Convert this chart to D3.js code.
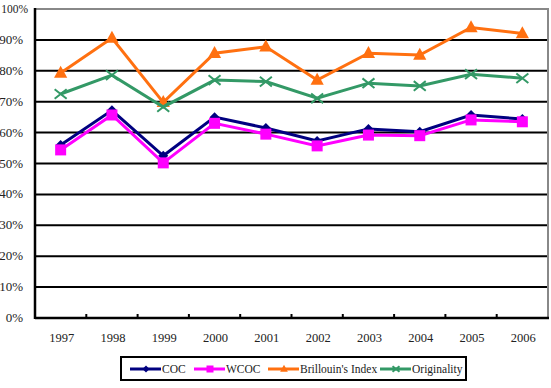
<!DOCTYPE html>
<html><head><meta charset="utf-8">
<script src="https://cdn.jsdelivr.net/npm/d3@7"></script>
<style>body{margin:0;background:#fff}svg{display:block}</style>
</head><body><svg id="c" width="551" height="388"></svg>
<script>
const years = ["1997","1998","1999","2000","2001","2002","2003","2004","2005","2006"];
const coc = [56, 67.2, 52.5, 65, 61.5, 57.3, 61.2, 60.3, 65.7, 64.4];
const wcoc = [54.4, 65.7, 50.2, 63, 59.5, 55.7, 59.2, 59, 64.1, 63.5];
const brillouin = [79.3, 90.6, 69.8, 85.7, 87.8, 77, 85.7, 85.1, 94, 92.1];
const originality = [72.5, 78.6, 68.3, 77, 76.5, 71.1, 76, 75.1, 78.9, 77.6];
const yTicks = [0,10,20,30,40,50,60,70,80,90,100];
const seriesNames = ["COC","WCOC","Brillouin's Index","Originality"];
const seriesColors = ["#000080","#FF00FF","#FF7010","#339966"];
const seriesShapes = ["diamond","square","triangle","x"];
const seriesData = [coc, wcoc, brillouin, originality];

const FONT = "Liberation Serif";
const svg = d3.select("#c");
const L = 35, R = 548, T = 9, B = 318;
const x = d3.scaleBand().domain(years).range([L, R]);
const y = d3.scaleLinear().domain([0,100]).range([B, T]);

svg.append("g").selectAll("line").data(yTicks.filter(d=>d>0 && d<100)).join("line")
  .attr("x1", L).attr("x2", R).attr("y1", d=>y(d)).attr("y2", d=>y(d))
  .attr("stroke","#000").attr("stroke-width",2);
svg.append("path").attr("d",`M${L},${y(100)}H${R}V${B}`).attr("fill","none")
  .attr("stroke","#888").attr("stroke-width",2);

svg.append("g").selectAll("text").data(yTicks).join("text")
  .attr("x", d=> d===100 ? 28 : 23).attr("y", d=>y(d)+4).attr("text-anchor","end")
  .attr("font-family",FONT).attr("font-size",d=> d===100 ? 11.5 : 13).attr("fill","#222")
  .text(d=>d+"%");

svg.append("line").attr("x1",L).attr("x2",R+1).attr("y1",B).attr("y2",B).attr("stroke","#000").attr("stroke-width",2.5);
svg.append("line").attr("x1",L).attr("x2",L).attr("y1",T-1).attr("y2",B+1).attr("stroke","#000").attr("stroke-width",2.5);
svg.append("g").selectAll("line").data(years.slice(1)).join("line")
  .attr("x1",d=>x(d)).attr("x2",d=>x(d)).attr("y1",B).attr("y2",B-4)
  .attr("stroke","#000").attr("stroke-width",2);
svg.append("g").selectAll("text").data(years).join("text")
  .attr("x", d=>x(d)+x.bandwidth()/2+1).attr("y", 342).attr("text-anchor","middle")
  .attr("font-family",FONT).attr("font-size",12.5).attr("fill","#222").text(d=>d);

function marker(g, shape, color, cx, cy, s) {
  if (shape==="diamond") g.append("path").attr("d",`M${cx},${cy-s}L${cx+s},${cy}L${cx},${cy+s}L${cx-s},${cy}Z`).attr("fill",color);
  else if (shape==="square") g.append("rect").attr("x",cx-s).attr("y",cy-s).attr("width",2*s).attr("height",2*s).attr("fill",color);
  else if (shape==="triangle") g.append("path").attr("d",`M${cx},${cy-s*1.2}L${cx+s*1.1},${cy+s*0.8}L${cx-s*1.1},${cy+s*0.8}Z`).attr("fill",color);
  else g.append("path").attr("d",`M${cx-s},${cy-s*0.8}L${cx+s},${cy+s*0.8}M${cx+s},${cy-s*0.8}L${cx-s},${cy+s*0.8}`).attr("stroke",color).attr("stroke-width",2).attr("fill","none");
}
const sizes = {diamond:5, square:5.5, triangle:6, x:6};
const line = d3.line().x((d,i)=>x(years[i])+x.bandwidth()/2).y(d=>y(d));
seriesData.forEach((data, k) => {
  const g = svg.append("g");
  g.append("path").attr("d", line(data)).attr("fill","none")
    .attr("stroke", seriesColors[k]).attr("stroke-width",3).attr("stroke-linejoin","miter");
  data.forEach((v,i)=>marker(g, seriesShapes[k], seriesColors[k], x(years[i])+x.bandwidth()/2, y(v), sizes[seriesShapes[k]]));
});

const lg = svg.append("g");
lg.append("rect").attr("x",121).attr("y",357).attr("width",345).attr("height",23)
  .attr("fill","#fff").attr("stroke","#000").attr("stroke-width",2);
const lx = [130, 194, 268, 380];
seriesNames.forEach((n,k)=>{
  const g = lg.append("g");
  g.append("line").attr("x1",lx[k]).attr("x2",lx[k]+31).attr("y1",369).attr("y2",369)
    .attr("stroke",seriesColors[k]).attr("stroke-width",3);
  marker(g, seriesShapes[k], seriesColors[k], lx[k]+16, 369, 3.5);
  g.append("text").attr("x",lx[k]+32).attr("y",373).attr("font-family",FONT)
    .attr("font-size",11.5).attr("fill","#222").text(n);
});
</script></body></html>
